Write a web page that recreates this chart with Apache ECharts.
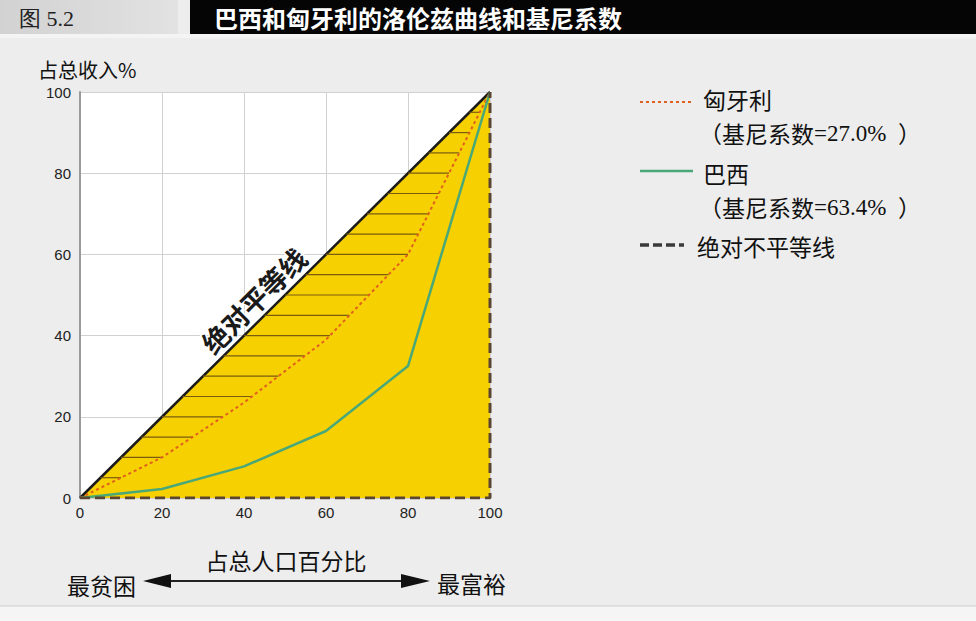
<!DOCTYPE html>
<html><head><meta charset="utf-8">
<script src="https://cdn.jsdelivr.net/npm/echarts@6/dist/echarts.min.js"></script>
<style>html,body{margin:0;padding:0;background:#ededed;}#c{width:976px;height:621px;}</style>
</head><body><div id="c"></div>
<script>
// ---- data ----
const populationPct = [0, 20, 40, 60, 80, 100];
const hungaryIncome = [0, 10, 23.5, 39, 60, 100];
const brazilIncome  = [0, 2.2, 7.8, 16.5, 32.5, 100];
const equalityX = [0, 100];
const equalityY = [0, 100];
const inequalityX = [0, 100, 100];
const inequalityY = [0, 0, 100];
const xTicks = [0, 20, 40, 60, 80, 100];
const yTicks = [0, 20, 40, 60, 80, 100];
const hatchLevels = [5,10,15,20,25,30,35,40,45,50,55,60,65,70,75,80,85,90,95];
const giniHungary = '27.0%';
const giniBrazil = '63.4%';

const zip = (a, b) => a.map((v, i) => [v, b[i]]);
// x on the Hungary curve for a given y (inverse linear interpolation)
function hungaryXAt(y) {
  for (let i = 1; i < populationPct.length; i++) {
    if (y <= hungaryIncome[i]) {
      const y0 = hungaryIncome[i-1], y1 = hungaryIncome[i];
      const x0 = populationPct[i-1], x1 = populationPct[i];
      return x0 + (y - y0) / (y1 - y0) * (x1 - x0);
    }
  }
  return 100;
}

const chart = echarts.init(document.getElementById('c'), null, {renderer: 'svg'});
const SANS = '"Noto Sans CJK SC","Noto Sans",sans-serif';
const SERIF = '"Liberation Serif","DejaVu Serif",serif';
const NUM = '"Liberation Sans",Arial,sans-serif';

const option = {
  backgroundColor: '#ededed',
  animation: false,
  grid: {left: 80, right: 486, top: 92, bottom: 123, show: true, backgroundColor: '#ffffff', borderColor: 'transparent'},
  xAxis: {
    type: 'value', min: 0, max: 100, interval: 20,
    axisLine: {show: false}, axisTick: {show: false},
    splitLine: {show: true, lineStyle: {color: '#d0d0d0', width: 1}},
    axisLabel: {color: '#222', fontSize: 15, fontFamily: NUM, margin: 7,
      formatter: v => xTicks.includes(v) ? String(v) : ''}
  },
  yAxis: {
    type: 'value', min: 0, max: 100, interval: 20,
    axisLine: {show: true, lineStyle: {color: '#9a9a9a', width: 2}}, axisTick: {show: false},
    splitLine: {show: true, lineStyle: {color: '#d0d0d0', width: 1}},
    axisLabel: {color: '#222', fontSize: 15, fontFamily: NUM, margin: 9,
      formatter: v => yTicks.includes(v) ? String(v) : ''}
  },
  series: [
    {
      name: 'equality', type: 'line', data: zip(equalityX, equalityY), symbol: 'none', z: 2,
      lineStyle: {color: '#1a1a1a', width: 2.5},
      areaStyle: {color: '#f6d000', opacity: 1}
    },
    {
      name: 'hatch', type: 'custom', z: 3, data: hatchLevels.map(v => [v]),
      renderItem: function (params, api) {
        const y = api.value(0);
        const p1 = api.coord([y, y]);
        const p2 = api.coord([hungaryXAt(y), y]);
        return {type: 'line', shape: {x1: p1[0], y1: p1[1], x2: p2[0], y2: p2[1]},
          style: {stroke: '#7a5c10', lineWidth: 1.2}};
      }
    },
    {
      name: '匈牙利', type: 'line', data: zip(populationPct, hungaryIncome), symbol: 'none', z: 4,
      lineStyle: {color: '#e0601e', width: 2, type: [3, 3]}
    },
    {
      name: '巴西', type: 'line', data: zip(populationPct, brazilIncome), symbol: 'none', z: 4,
      lineStyle: {color: '#4aa878', width: 2.5}
    },
    {
      name: '绝对不平等线', type: 'line', data: zip(inequalityX, inequalityY), symbol: 'none', z: 5,
      lineStyle: {color: '#5a4630', width: 3, type: [10, 5]}
    }
  ]
};
chart.setOption(option);

// label on the equality line, positioned from the axes
const lp = chart.convertToPixel({gridIndex: 0}, [45.5, 45.5]);

function legendLine(x1, x2, y, color, width, dash) {
  return {type: 'line', shape: {x1: x1, y1: y, x2: x2, y2: y}, style: {stroke: color, lineWidth: width, lineDash: dash}};
}
function txt(x, y, text, size, opts) {
  return {type: 'text', x: x, y: y, style: Object.assign({text: text, fill: '#111', font: size + 'px ' + SANS, verticalAlign: 'middle'}, opts || {})};
}
function giniText(x, y, val) {
  return {type: 'text', x: x, y: y, style: {
    text: '{a|（基尼系数}{b|=' + val + '  }{a|）}',
    verticalAlign: 'middle',
    rich: {a: {fontSize: 23, fontFamily: SANS, fill: '#111'}, b: {fontSize: 23, fontFamily: SERIF, fill: '#111'}}
  }};
}

chart.setOption({
  graphic: [
    // header
    {type: 'rect', shape: {x: 0, y: 0, width: 178, height: 34},
      style: {fill: new echarts.graphic.LinearGradient(0, 0, 1, 0, [{offset: 0, color: '#d2d2d2'}, {offset: 1, color: '#e2e2e2'}])}},
    {type: 'rect', shape: {x: 0, y: 34, width: 976, height: 4}, style: {fill: '#f4f4f4'}},
    {type: 'text', x: 19, y: 18, style: {text: '图 5.2', font: '22px ' + SERIF, fill: '#222', verticalAlign: 'middle'}},
    {type: 'rect', shape: {x: 190, y: -20, width: 800, height: 54, r: [0, 40, 0, 0]}, style: {fill: '#050505'}},
    {type: 'text', x: 214, y: 17, style: {text: '巴西和匈牙利的洛伦兹曲线和基尼系数', font: 'bold 24px ' + SANS, fill: '#ffffff', verticalAlign: 'middle'}},
    // y title
    txt(38, 69, '占总收入%', 20, {lineHeight: 20}),
    // equality label
    {type: 'text', x: lp[0] - 13, y: lp[1] - 13, rotation: Math.PI / 4, z: 10,
      style: {text: '绝对平等线', font: 'bold 27px ' + SANS, fill: '#1a1a1a', stroke: '#ffffff', lineWidth: 3,
        align: 'center', verticalAlign: 'middle'}},
    // legend
    legendLine(640, 693, 102, '#e0601e', 2, [3, 3]),
    txt(703, 99, '匈牙利', 23),
    giniText(699, 133, giniHungary),
    legendLine(640, 693, 171, '#4aa878', 2.5, null),
    txt(703, 173, '巴西', 23),
    giniText(699, 207, giniBrazil),
    legendLine(640, 684, 245, '#3a3a3a', 3.5, [9, 4]),
    txt(697, 246, '绝对不平等线', 23),
    // bottom x title and arrow
    txt(286, 560, '占总人口百分比', 23, {align: 'center'}),
    {type: 'line', shape: {x1: 165, y1: 581, x2: 405, y2: 581}, style: {stroke: '#222', lineWidth: 2}},
    {type: 'polygon', shape: {points: [[143, 581], [171, 574], [171, 588]]}, style: {fill: '#111'}},
    {type: 'polygon', shape: {points: [[430, 581], [401, 574], [401, 588]]}, style: {fill: '#111'}},
    txt(67, 585, '最贫困', 23),
    txt(437, 583, '最富裕', 23),
    // bottom strip
    {type: 'rect', shape: {x: 0, y: 606, width: 976, height: 15}, style: {fill: '#f5f5f5'}},
    {type: 'line', shape: {x1: 0, y1: 606, x2: 976, y2: 606}, style: {stroke: '#cfcfcf', lineWidth: 1}}
  ]
});
</script>
</body></html>
